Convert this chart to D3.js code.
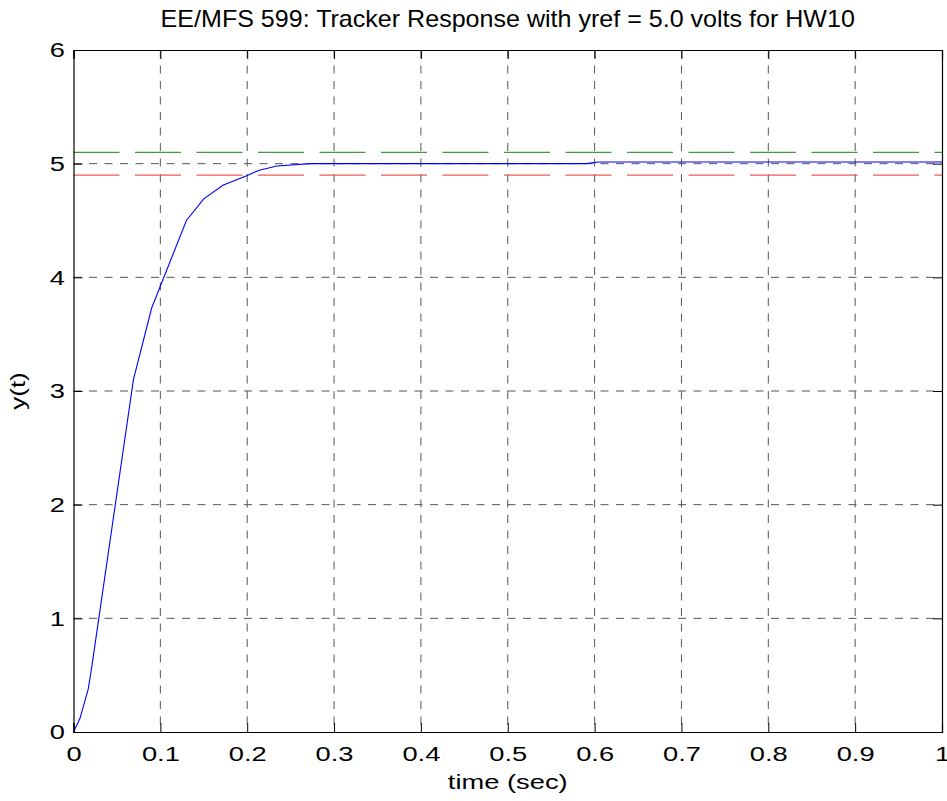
<!DOCTYPE html>
<meta charset="utf-8">
<style type="text/css">
	body { margin: 0; background: #fff; }
	svg { display: block; }
	text { font-family: "Liberation Sans", Arial, sans-serif; fill: #000; }
</style>
<body>
</body>
<script src="https://d3js.org/d3.v7.min.js"></script>
<script>

	// response samples
	var time = [0, 0.0075, 0.017, 0.021, 0.069, 0.09, 0.13, 0.15, 0.172, 0.198, 0.213, 0.234, 0.273, 0.59, 0.605, 1.0];
	var yOut = [0, 0.12, 0.38, 0.57, 3.10, 3.73, 4.50, 4.69, 4.81, 4.89, 4.94, 4.98, 5.0, 5.0, 5.015, 5.015];
	var upperBand = 5.1;
	var lowerBand = 4.9;
	var xTicks = [0, 0.1, 0.2, 0.3, 0.4, 0.5, 0.6, 0.7, 0.8, 0.9, 1];
	var yTicks = [0, 1, 2, 3, 4, 5, 6];

	var margin = {top: 50, right: 5, bottom: 69, left: 73.5};
	var W = 947, H = 801;
	var width = W - margin.left - margin.right;
	var height = H - margin.top - margin.bottom;

	// the original font is wide, so text gets stretched along its baseline
	var stretch = 1.3;

	var svg = d3.select("body").append("svg")
		.attr("width", W)
		.attr("height", H);

	var g = svg.append("g")
		.attr("transform", "translate(" + margin.left + "," + margin.top + ")");

	var x = d3.scaleLinear().domain([0, 1]).range([0, width]);
	var y = d3.scaleLinear().domain([0, 6]).range([height, 0]);

	// grid
	g.selectAll(".vgrid")
		.data(xTicks.slice(1, -1))
		.enter().append("line")
		.attr("x1", function(d) { return x(d); })
		.attr("x2", function(d) { return x(d); })
		.attr("y1", 0).attr("y2", height)
		.attr("stroke", "#555")
		.attr("stroke-dasharray", "8,7.5");

	g.selectAll(".hgrid")
		.data(yTicks.slice(1, -1))
		.enter().append("line")
		.attr("x1", 0).attr("x2", width)
		.attr("y1", function(d) { return y(d); })
		.attr("y2", function(d) { return y(d); })
		.attr("stroke", "#555")
		.attr("stroke-dasharray", "8,7.5");

	// +/- 2% bands
	g.append("line")
		.attr("x1", 0).attr("x2", width)
		.attr("y1", y(upperBand)).attr("y2", y(upperBand))
		.attr("stroke", "#3f9a3f")
		.attr("stroke-width", 1.2)
		.attr("stroke-dasharray", "46,15.5");

	g.append("line")
		.attr("x1", 0).attr("x2", width)
		.attr("y1", y(lowerBand)).attr("y2", y(lowerBand))
		.attr("stroke", "#f05a5a")
		.attr("stroke-width", 1.2)
		.attr("stroke-dasharray", "46,15.5");

	var line = d3.line()
		.x(function(d, i) { return x(time[i]); })
		.y(function(d) { return y(d); });

	g.append("path")
		.datum(yOut)
		.attr("d", line)
		.attr("fill", "none")
		.attr("stroke", "#0000ff")
		.attr("stroke-width", 1.1);

	// axes, ticks point inward
	var fmt = function(d) { return String(d); };

	var xAxis = g.append("g")
		.attr("transform", "translate(0," + height + ")")
		.call(d3.axisBottom(x).tickValues(xTicks).tickFormat(fmt).tickSize(-9).tickPadding(14));

	var yAxis = g.append("g")
		.call(d3.axisLeft(y).tickValues(yTicks).tickFormat(fmt).tickSize(-9).tickPadding(9));

	g.append("g")
		.call(d3.axisTop(x).tickValues(xTicks).tickFormat("").tickSize(-9));

	g.append("g")
		.attr("transform", "translate(" + width + ",0)")
		.call(d3.axisRight(y).tickValues(yTicks).tickFormat("").tickSize(-9));

	g.selectAll(".domain").attr("stroke", "#000").attr("stroke-width", 1.2);
	g.selectAll(".tick line").attr("stroke", "#000");
	g.selectAll(".tick text")
		.attr("font-size", "21px")
		.attr("font-family", "'Liberation Sans', Arial, sans-serif")
		.attr("fill", "#000")
		.attr("transform", "scale(" + stretch + ",1)");
	yAxis.selectAll(".tick text").attr("x", -8.5 / stretch);

	// labels
	svg.append("text")
		.attr("transform", "translate(" + (margin.left + width / 2) + ",27) scale(1.09,1)")
		.attr("text-anchor", "middle")
		.attr("font-size", "23px")
		.text("EE/MFS 599: Tracker Response with yref = 5.0 volts for HW10");

	svg.append("text")
		.attr("transform", "translate(" + (margin.left + width / 2) + ",789) scale(" + stretch + ",1)")
		.attr("text-anchor", "middle")
		.attr("font-size", "21px")
		.text("time (sec)");

	svg.append("text")
		.attr("transform", "translate(25," + (margin.top + height / 2) + ") rotate(-90) scale(" + stretch + ",1)")
		.attr("text-anchor", "middle")
		.attr("font-size", "20px")
		.text("y(t)");

</script>
